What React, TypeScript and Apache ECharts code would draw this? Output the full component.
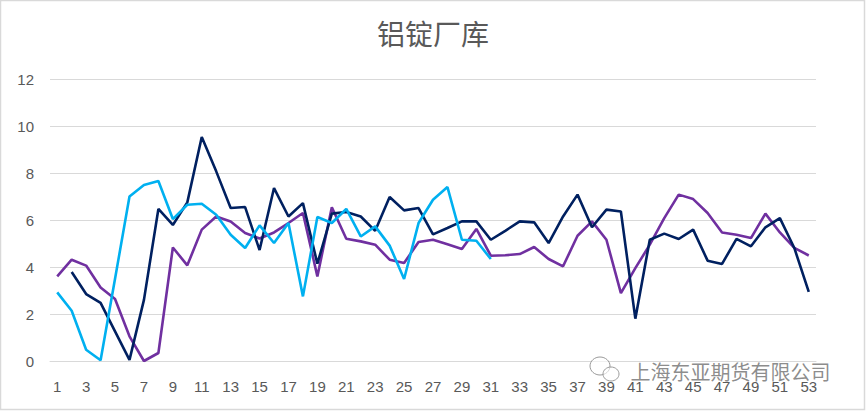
import React, { useEffect, useRef } from "react";
import * as echarts from "echarts";

const categories: string[] = Array.from({ length: 53 }, (_, i) => String(i + 1));

const seriesNavy: (number | null)[] = [
  null, 3.79, 2.85, 2.47, 1.26, 0.05, 2.6, 6.47, 5.79, 6.75,
  9.53, 8.07, 6.51, 6.55, 4.72, 7.36, 6.15, 6.72, 4.14, 6.27,
  6.34, 6.15, 5.54, 6.98, 6.41, 6.51, 5.39, 5.66, 5.94, 5.94,
  5.16, 5.54, 5.94, 5.9, 5.02, 6.15, 7.08, 5.69, 6.44, 6.36,
  1.8, 5.16, 5.42, 5.19, 5.59, 4.27, 4.13, 5.2, 4.88, 5.69,
  6.08, 4.81, 2.94,
];

const seriesPurple: (number | null)[] = [
  3.6, 4.31, 4.06, 3.13, 2.64, 1.05, 0, 0.34, 4.83, 4.07,
  5.59, 6.15, 5.94, 5.45, 5.21, 5.47, 5.87, 6.3, 3.6, 6.54,
  5.2, 5.09, 4.95, 4.31, 4.17, 5.06, 5.16, 4.97, 4.77, 5.62,
  4.48, 4.5, 4.55, 4.85, 4.34, 4.03, 5.33, 5.94, 5.16, 2.89,
  3.95, 4.95, 6.08, 7.08, 6.89, 6.3, 5.47, 5.37, 5.23, 6.27,
  5.47, 4.81, 4.49,
];

const seriesBlue: (number | null)[] = [
  2.92, 2.14, 0.48, 0.03, 3.5, 7.0, 7.49, 7.66, 6.04, 6.65,
  6.69, 6.22, 5.37, 4.81, 5.77, 5.02, 5.87, 2.75, 6.13, 5.87,
  6.47, 5.3, 5.73, 4.91, 3.49, 5.87, 6.86, 7.4, 5.16, 5.12,
  4.34, null, null, null, null, null, null, null, null, null,
  null, null, null, null, null, null, null, null, null, null,
  null, null, null,
];

const titleText = "铝锭厂库";
const watermarkText = "上海东亚期货有限公司";

export default function App() {
  const ref = useRef<HTMLDivElement>(null);
  useEffect(() => {
    document.body.style.margin = "0";
    if (!ref.current) return;
    const chart = echarts.init(ref.current, null, { renderer: "svg" });
    const lineStyle = (color: string) => ({
      type: "line" as const,
      symbol: "none",
      connectNulls: false,
      lineStyle: { color, width: 2.6 },
      itemStyle: { color },
    });
    chart.setOption({
      animation: false,
      backgroundColor: "#ffffff",
      title: {
        text: titleText,
        left: "center",
        top: 14,
        textStyle: {
          fontFamily: "'Noto Sans CJK SC'",
          fontSize: 28,
          fontWeight: "normal",
          color: "#595959",
        },
      },
      grid: { left: 50, right: 50, top: 79, bottom: 50, containLabel: false },
      xAxis: {
        type: "category",
        data: categories,
        boundaryGap: true,
        axisLine: { show: true, lineStyle: { color: "#D9D9D9", width: 1 } },
        axisTick: { show: false },
        axisLabel: {
          interval: 1,
          color: "#595959",
          fontSize: 15,
          fontFamily: "'Liberation Sans', Arial, sans-serif",
          margin: 18,
        },
        splitLine: { show: false },
      },
      yAxis: {
        type: "value",
        min: 0,
        max: 12,
        interval: 2,
        axisLine: { show: false },
        axisTick: { show: false },
        axisLabel: {
          color: "#595959",
          fontSize: 15,
          fontFamily: "'Liberation Sans', Arial, sans-serif",
          margin: 16,
        },
        splitLine: { show: true, lineStyle: { color: "#D9D9D9", width: 1 } },
      },
      series: [
        { ...lineStyle("#7030A0"), name: "purple", data: seriesPurple, z: 2 },
        { ...lineStyle("#002060"), name: "navy", data: seriesNavy, z: 3 },
        { ...lineStyle("#00B0F0"), name: "blue", data: seriesBlue, z: 4 },
      ],
      graphic: [
        {
          type: "rect",
          shape: { x: 0.5, y: 0.5, width: 864, height: 409 },
          style: { fill: "none", stroke: "#D9D9D9", lineWidth: 1.5 },
          silent: true,
        },
        {
          type: "ellipse",
          shape: { cx: 600, cy: 366, rx: 10, ry: 9 },
          style: { fill: "rgba(255,255,255,0.6)", stroke: "#9a9a9a", lineWidth: 1 },
          z: 100,
        },
        {
          type: "ellipse",
          shape: { cx: 611, cy: 374, rx: 8, ry: 7 },
          style: { fill: "rgba(255,255,255,0.6)", stroke: "#9a9a9a", lineWidth: 1 },
          z: 101,
        },
        {
          type: "text",
          left: 630,
          top: 361,
          style: {
            text: watermarkText,
            fontFamily: "'Noto Sans CJK SC'",
            fontSize: 20,
            fill: "rgba(120,120,120,0.85)",
            stroke: "rgba(255,255,255,0.8)",
            lineWidth: 1,
          },
          z: 102,
        },
      ],
    });
    return () => chart.dispose();
  }, []);
  return <div ref={ref} style={{ width: 866, height: 411 }} />;
}
